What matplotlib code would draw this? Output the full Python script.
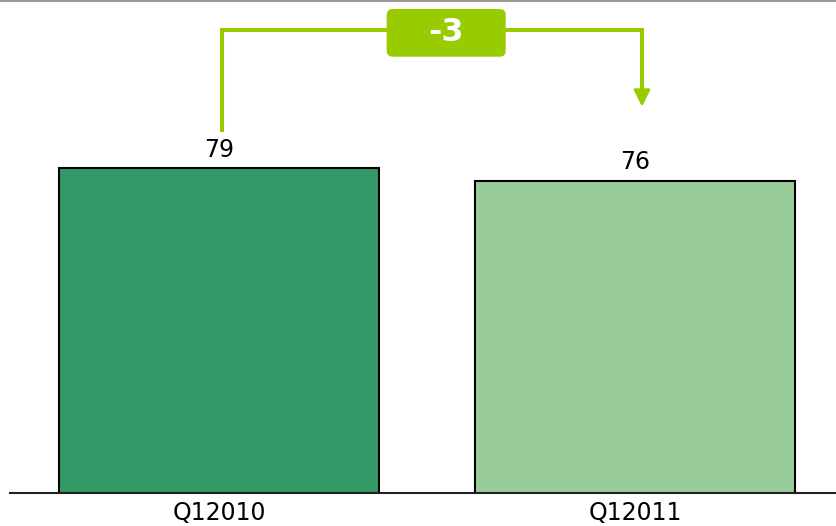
import matplotlib
matplotlib.use("Agg")
import matplotlib.pyplot as plt
from matplotlib.patches import FancyBboxPatch

categories = ["Q12010", "Q12011"]
values = [79, 76]
bar_colors = ["#339966", "#99cc99"]
accent = "#99cc00"

W, H = 836, 526
fig = plt.figure(figsize=(W / 100, H / 100), dpi=100)
# axes: x from px 10 to 836, y from px 493 (baseline) to top
ax = fig.add_axes([10 / W, 1 - 493 / H, 826 / W, 493 / H])
ppu = 4.11  # pixels per unit
ax.set_ylim(0, 493 / ppu)
ax.set_xlim((10 - 219) / 416, (836 - 219) / 416)

x = list(range(len(categories)))
ax.bar(x, values, width=320 / 416, color=bar_colors, edgecolor="black", linewidth=1.5, zorder=2)

for xi, v in zip(x, values):
    ax.text(xi, v + 1.6, f"{v}", ha="center", va="bottom", fontsize=17, color="black")

for s in ["top", "right", "left"]:
    ax.spines[s].set_visible(False)
ax.spines["bottom"].set_linewidth(1.5)
ax.spines["bottom"].set_color("#222222")
ax.set_yticks([])
ax.set_xticks(x)
ax.set_xticklabels(categories, fontsize=17)
ax.tick_params(axis="x", length=0, pad=6)

# bracket showing change
diff = values[1] - values[0]
y_top = (493 - 30) / ppu
x_l = x[0] + 3 / 416
x_r = x[1] + 7 / 416
y_l = values[0] + 8.8
y_r = values[1] + 18.0
ax.plot([x_l, x_l, x_r, x_r], [y_l, y_top, y_top, y_r + 3.8], color=accent, lw=2.9,
        solid_capstyle="butt", solid_joinstyle="miter", zorder=3, clip_on=False)
ax.annotate("", xy=(x_r, y_r), xytext=(x_r, y_r + 4.0),
            arrowprops=dict(arrowstyle="-|>,head_length=1.0,head_width=0.5", color=accent, lw=2.0,
                            shrinkA=0, shrinkB=0), zorder=3)

# label box
bx0, bx1 = (386.7 - 219) / 416, (505.7 - 219) / 416
by0, by1 = (493 - 56.7) / ppu, (493 - 9) / ppu
aspect = (1 / ppu) / (1 / 416)
box = FancyBboxPatch((bx0, by0), bx1 - bx0, by1 - by0,
                     boxstyle=f"round,pad=0,rounding_size={6/416}",
                     mutation_aspect=aspect, facecolor=accent, edgecolor="none",
                     zorder=4, clip_on=False)
ax.add_patch(box)
ax.text((bx0 + bx1) / 2, (by0 + by1) / 2, f"{diff}", ha="center", va="center",
        fontsize=23, fontweight="bold", color="white", zorder=5)

# thin gray line at top of figure
fig.add_artist(plt.Line2D([0, 1], [1 - 1 / H, 1 - 1 / H], color="#999999", lw=1.5,
                          transform=fig.transFigure))

fig.savefig("out.png", dpi=100)
